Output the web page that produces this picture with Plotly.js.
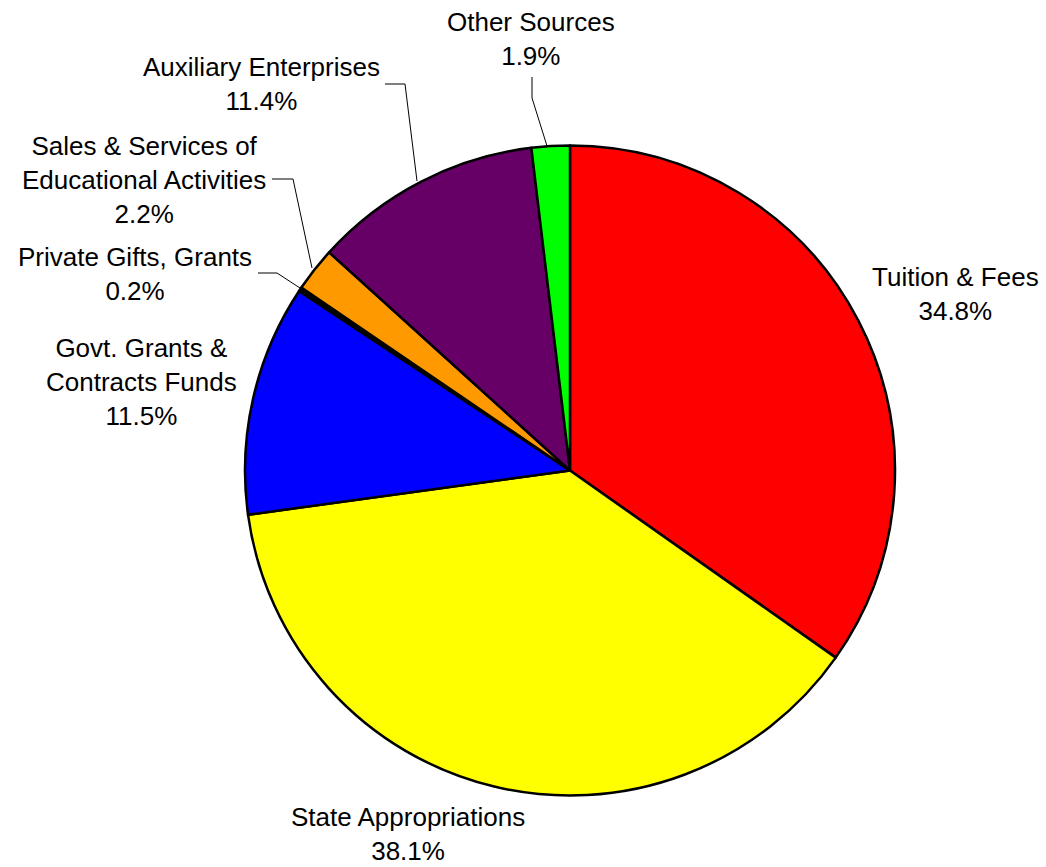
<!DOCTYPE html>
<html>
<head>
<meta charset="utf-8">
<script src="https://cdn.plot.ly/plotly-3.0.1.min.js"></script>
<style>html,body{margin:0;padding:0;background:#fff;}#chart{width:1046px;height:867px;}</style>
</head>
<body>
<div id="chart"></div>
<script>
// Data
var categories = ["Tuition & Fees", "State Appropriations", "Govt. Grants & Contracts Funds", "Private Gifts, Grants", "Sales & Services of Educational Activities", "Auxiliary Enterprises", "Other Sources"];
var labelLines = ["Tuition & Fees", "State Appropriations", "Govt. Grants &<br>Contracts Funds", "Private Gifts, Grants", "Sales & Services of<br>Educational Activities", "Auxiliary Enterprises", "Other Sources"];
var percents = [34.8, 38.1, 11.5, 0.2, 2.2, 11.4, 1.9];
var colors = ["#FF0000", "#FFFF00", "#0000FF", "#000000", "#FF9900", "#660066", "#00FF00"];

// Layout helpers (pixel -> paper)
var W = 1046, H = 867;
function px(x){ return x / W; }
function py(y){ return 1 - y / H; }

// label centers in pixels
var labelPos = [[955, 294], [408, 834], [141, 382], [135, 274], [144, 180], [261, 84], [531, 39]];
// leader lines (pixel polylines); null = none
var leaders = [null, null, null,
  [[258, 273], [277, 273], [300, 288]],
  [[272, 179], [293, 179], [312, 268]],
  [[385, 84], [405, 84], [417, 181]],
  [[532, 77], [532, 98], [547, 146]]];

var cx = 570, cy = 470.5, R = 325;

var annotations = categories.map(function(c, i){
  return {
    xref: 'paper', yref: 'paper',
    x: px(labelPos[i][0]), y: py(labelPos[i][1]),
    xanchor: 'center', yanchor: 'middle',
    text: labelLines[i] + '<br>' + percents[i].toFixed(1) + '%',
    showarrow: false, align: 'center',
    font: {family: 'Liberation Sans, Arial, sans-serif', size: 26, color: '#000'}
  };
});

var shapes = [];
leaders.forEach(function(l){
  if (!l) return;
  var d = l.map(function(p, j){ return (j ? 'L ' : 'M ') + px(p[0]) + ' ' + py(p[1]); }).join(' ');
  shapes.push({type: 'path', xref: 'paper', yref: 'paper', path: d, line: {color: '#000', width: 1}});
});

var trace = {
  type: 'pie',
  labels: categories,
  values: percents,
  sort: false,
  direction: 'clockwise',
  rotation: 0,
  textinfo: 'none',
  hoverinfo: 'label+percent',
  marker: {colors: colors, line: {color: '#000', width: 2.5}},
  domain: {x: [px(cx - R), px(cx + R)], y: [py(cy + R), py(cy - R)]},
  showlegend: false
};

var layout = {
  width: W, height: H,
  margin: {l: 0, r: 0, t: 0, b: 0},
  paper_bgcolor: '#fff',
  showlegend: false,
  annotations: annotations,
  shapes: shapes
};

Plotly.newPlot('chart', [trace], layout, {displayModeBar: false, staticPlot: true});
</script>
</body>
</html>
